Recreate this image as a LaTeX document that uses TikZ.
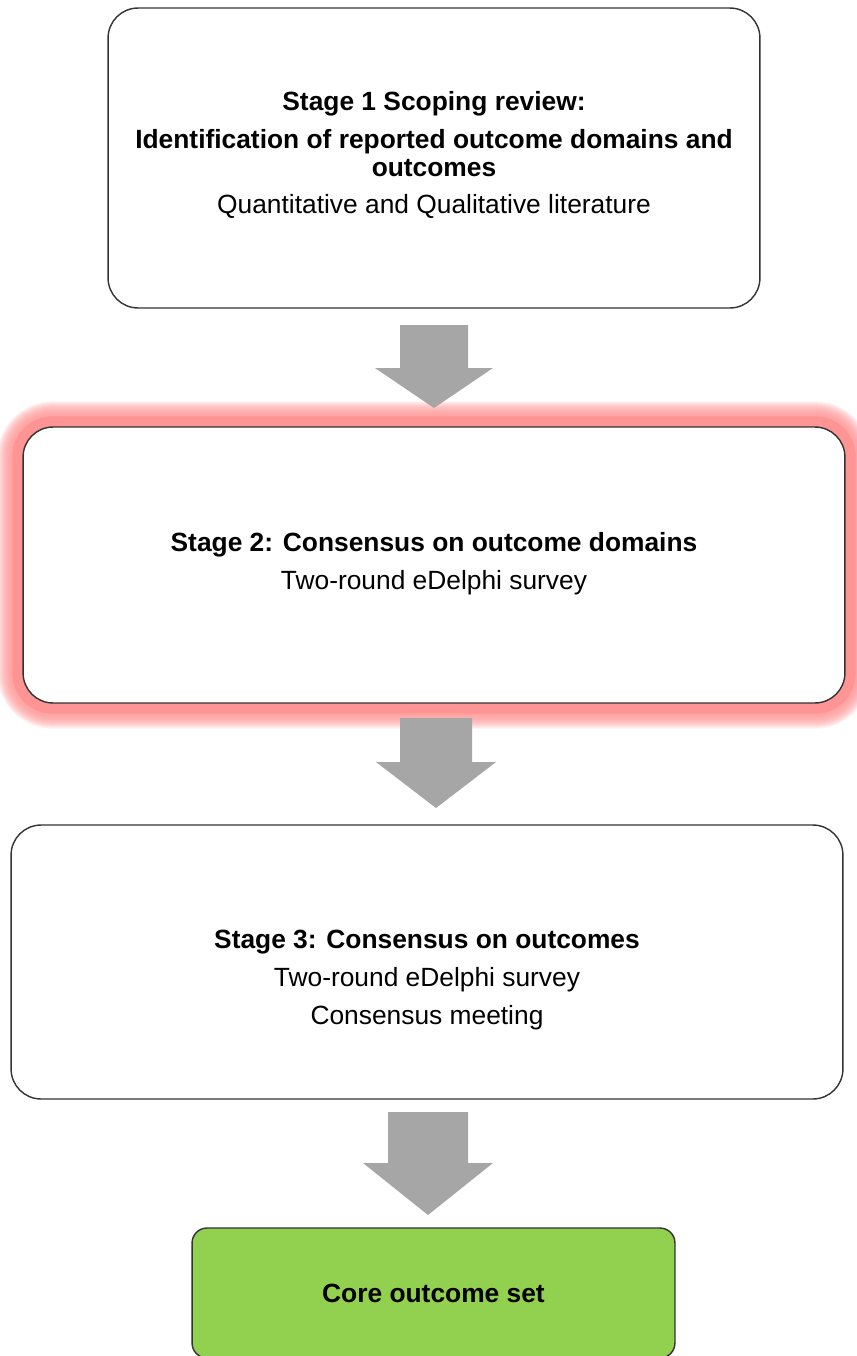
\documentclass[tikz,border=0pt]{standalone}
\usepackage{fontspec}
\setmainfont{Liberation Sans}
\usepackage{tikz}
\usetikzlibrary{calc}
\definecolor{ArrowGrey}{RGB}{166,166,166}
\definecolor{GlowRed}{RGB}{255,148,148}
\definecolor{CoreGreen}{RGB}{146,208,80}
\tikzstyle{stage}=[rectangle,rounded corners=0.6cm,draw=black!80,fill=white,line width=0.8pt,inner sep=0pt]
\tikzstyle{core}=[rectangle,rounded corners=0.3cm,draw=black!80,fill=CoreGreen,line width=0.8pt,inner sep=0pt]
\tikzstyle{txt}=[inner sep=0pt,align=center,font=\fontsize{15}{16}\selectfont]
\tikzstyle{glow}=[draw=GlowRed,rounded corners=0.6cm]
\tikzstyle{blockarrow}=[fill=ArrowGrey,draw=none]

\begin{document}
\begin{tikzpicture}[x=0.02cm,y=-0.02cm]
	\useasboundingbox (0,0) rectangle (856,1356);
	% boxes
	\node [style=stage,minimum width=13.04cm,minimum height=6cm] (s1) at (434,158) {};
	\node [style=stage,minimum width=16.44cm,minimum height=5.52cm] (s2) at (434,565) {};
	\node [style=stage,minimum width=16.64cm,minimum height=5.48cm] (s3) at (427,962) {};
	\node [style=core,minimum width=9.66cm,minimum height=2.6cm] (cos) at (433.5,1293) {};
	% red glow round stage 2
	\foreach \d in {11,...,25}
		\draw [style=glow,draw opacity=0.12,line width=\d*2*0.567pt] (s2.north west) rectangle (s2.south east);
	\draw [style=glow,line width=20*0.567pt] (s2.north west) rectangle (s2.south east);
	\node [style=stage,minimum width=16.44cm,minimum height=5.52cm] (s2top) at (s2) {};
	% texts
	\node [style=txt] (t1) at (434,155) {\textbf{Stage 1 Scoping review:}\\[5.5pt]
		\textbf{Identification of reported outcome domains and}\\
		\textbf{outcomes}\\[5pt]
		Quantitative and Qualitative literature};
	\node [style=txt] (t2) at (434,564) {\textbf{Stage 2: Consensus on outcome domains}\\[5.5pt]
		Two-round eDelphi survey};
	\node [style=txt] (t3) at (427,980) {\textbf{Stage 3: Consensus on outcomes}\\[5.5pt]
		Two-round eDelphi survey\\[5.5pt]
		Consensus meeting};
	\node [style=txt] (t4) at (433.5,1293) {\textbf{Core outcome set}};
	% block arrows
	\coordinate (a1) at (434,325);
	\coordinate (a1tip) at (434,408);
	\coordinate (a2) at (436,718);
	\coordinate (a2tip) at (436,808);
	\coordinate (a3) at (428,1112);
	\coordinate (a3tip) at (428,1215);
	\foreach \a/\sh/\hh/\nk in {a1/34/59/43,a2/36/60/44,a3/40/65/51}
		\fill [style=blockarrow] ($(\a)+(-\sh,0)$) -- ($(\a)+(\sh,0)$) -- ($(\a)+(\sh,\nk)$)
			-- ($(\a)+(\hh,\nk)$) -- (\a tip) -- ($(\a)+(-\hh,\nk)$) -- ($(\a)+(-\sh,\nk)$) -- cycle;
\end{tikzpicture}
\end{document}
